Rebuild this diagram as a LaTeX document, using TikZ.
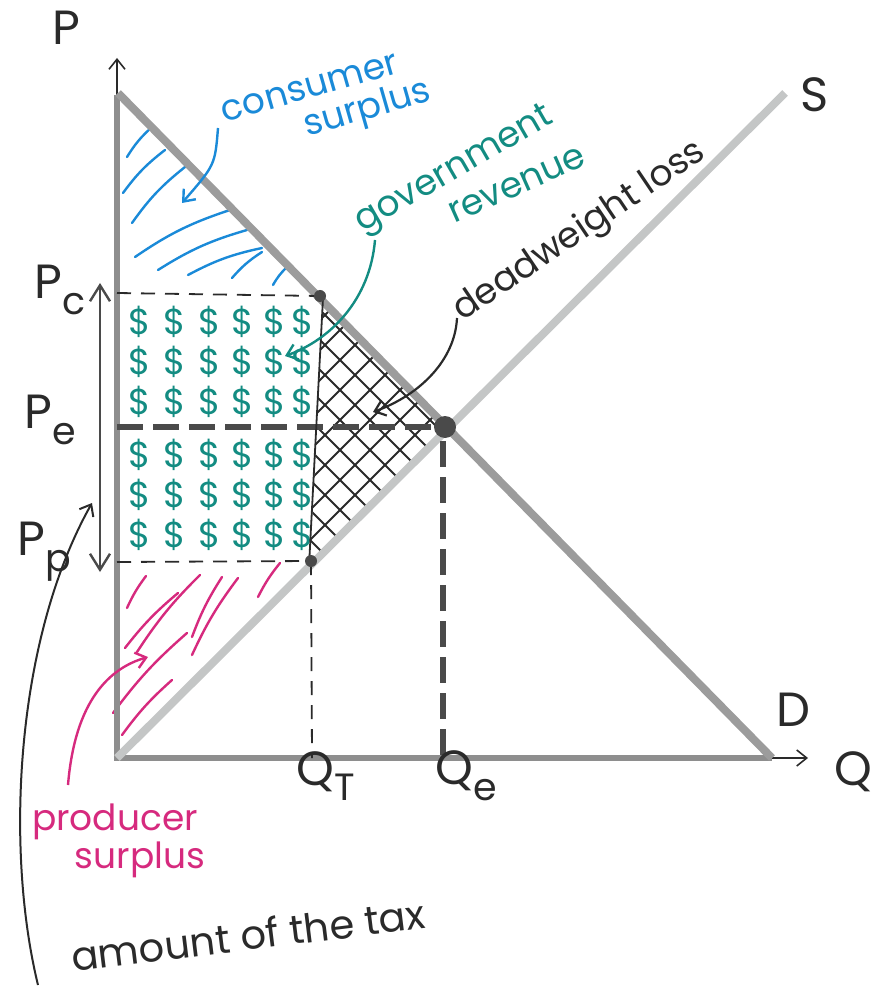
\documentclass[tikz,border=0pt]{standalone}
\usepackage{fontspec}
\setmainfont{Poppins}
\usetikzlibrary{arrows.meta, calc}

\definecolor{csblue}{HTML}{1A8AD8}
\definecolor{grteal}{HTML}{138C82}
\definecolor{psmag}{HTML}{D62A7E}
\definecolor{axisgray}{HTML}{8E8E8E}
\definecolor{demgray}{HTML}{9C9C9C}
\definecolor{supgray}{HTML}{C4C6C6}
\definecolor{inkblk}{HTML}{2A2A2A}

% P cu indice coborat
\newcommand{\plab}[2]{#1\raisebox{-0.6ex}{\fontsize{19}{19}\selectfont #2}}

\tikzset{
  axisline/.style={axisgray, line width=3pt},
  curveline/.style={line width=4pt},
  thindash/.style={inkblk, line width=0.9pt, dash pattern=on 7pt off 5pt},
  thickdash/.style={inkblk!85, line width=2.6pt, dash pattern=on 13pt off 5pt},
  hand/.style={font=\fontsize{24}{24}\selectfont, text=inkblk, inner sep=0pt},
  note/.style={font=\fontsize{18}{18}\selectfont, inner sep=0pt},
  hatch/.style={line width=1.2pt, line cap=round},
  barb/.style={-{Straight Barb[length=5pt, width=8pt]}},
}

\begin{document}
\begin{tikzpicture}[x=0.5pt, y=-0.5pt]
    \useasboundingbox (0,0) rectangle (871,988);
    % Puncte
    \coordinate (O) at (117,758);
    \coordinate (ytop) at (117,95);
    \coordinate (yarr) at (117,58);
    \coordinate (xend) at (772,758);
    \coordinate (xarr) at (808,758);
    \coordinate (dtop) at (118,93);
    \coordinate (stop) at (785,93);
    \coordinate (E) at (445,427);
    \coordinate (C) at (320,296);
    \coordinate (T) at (311,561);
    % Surplus consumator
    \foreach \xa/\ya/\xb/\yb in {127/157/152/127, 123/193/165/150, 132/223/185/167,
        135/257/230/210, 158/270/247/230, 188/275/262/248, 232/278/262/252, 273/285/287/267} {
      \draw[csblue, hatch] (\xa,\ya) to[bend left=8] (\xb,\yb);
    }
    % Surplus producator
    \foreach \xa/\ya/\xb/\yb in {127/608/146/576, 125/648/178/593, 137/652/200/575,
        192/637/222/577, 192/655/238/578, 258/597/280/563, 113/713/187/633, 122/735/172/680} {
      \draw[psmag, hatch] (\xa,\ya) to[bend left=6] (\xb,\yb);
    }
    % Pierdere neta
    \begin{scope}
      \clip (323,298) -- (E) -- (310,562) -- cycle;
      \foreach \c in {640,670,...,880} {
        \draw[inkblk, line width=0.9pt] (250,\c-250) -- (470,\c-470);
      }
      \foreach \c in {-10,20,...,250} {
        \draw[inkblk, line width=0.9pt] (250,250+\c) -- (470,470+\c);
      }
    \end{scope}
    % Venit guvern
    \foreach \y in {322,362,402,455,495,535} {
      \foreach \x in {140,175,210,243,275,303} {
        \node[grteal, font=\fontsize{18}{18}\selectfont, inner sep=0pt] (d\x\y) at (\x,\y) {\$};
      }
    }
    % Axe
    \draw[axisline] (ytop) -- (O) -- (xend);
    \draw[inkblk, line width=0.8pt, barb] (ytop) -- (yarr);
    \draw[inkblk, line width=0.8pt, barb] (xend) -- (xarr);
    % Cerere si oferta
    \draw[supgray, curveline] (O) -- (stop);
    \draw[demgray, curveline] (dtop) -- (xend);
    % Linii punctate
    \draw[thickdash] (117,427) -- ($(E)+(-14,0)$);
    \draw[thickdash] ($(E)+(-2,14)$) -- (443,758);
    \draw[thindash] (117,293) -- (C);
    \draw[thindash] (117,562) -- (T);
    \draw[thindash] (T) -- (312,758);
    \draw[inkblk, line width=0.9pt] (323,298) -- (309,566);
    \fill[inkblk!85] (E) circle (5.5pt);
    \fill[inkblk!85] (C) circle (3pt);
    \fill[inkblk!85] (T) circle (3pt);
    % Suma taxei
    \coordinate (taxtop) at (100,283);
    \coordinate (taxbot) at (100,572);
    \draw[inkblk!85, line width=1.2pt, {Straight Barb[length=8pt, width=10pt]}-{Straight Barb[length=8pt, width=10pt]}] (taxtop) -- (taxbot);
    % Etichete axe
    \node[hand] (plabel) at (66,28) {P};
    \node[hand] (pclab) at (60,290) {\plab{P}{c}};
    \node[hand] (pelab) at (50,420) {\plab{P}{e}};
    \node[hand] (pplab) at (44,552) {\plab{P}{p}};
    \node[hand] (slab) at (815,95) {S};
    \node[hand] (dlab) at (793,710) {D};
    \node[hand] (qlab) at (853,772) {Q};
    \node[hand] (qtlab) at (326,776) {\plab{Q}{T}};
    \node[hand] (qelab) at (466,776) {\plab{Q}{e}};
    % Texte
    \node[note, text=csblue, rotate=16] (cons) at (310,88) {consumer};
    \node[note, text=csblue, rotate=16] (csurp) at (368,110) {surplus};
    \node[note, text=grteal, rotate=30] (gov) at (455,171) {government};
    \node[note, text=grteal, rotate=24] (rev) at (517,185) {revenue};
    \node[note, text=inkblk, rotate=34] (dwl) at (580,232) {deadweight loss};
    \node[note, text=psmag] (prod) at (115,822) {producer};
    \node[note, text=psmag] (psurp) at (140,860) {surplus};
    \node[note, text=inkblk, rotate=7, font=\fontsize{20}{20}\selectfont] (tax) at (248,935) {amount of the tax};
    % Sageti
    \coordinate (cs-tail) at (218,128);
    \coordinate (cs-tip) at (182,203);
    \draw[csblue, line width=1.2pt, barb] (cs-tail) .. controls (215,165) .. (cs-tip);
    \coordinate (gr-tail) at (375,240);
    \coordinate (gr-tip) at (285,356);
    \draw[grteal, line width=1.2pt, barb] (gr-tail) .. controls (370,300) and (330,340) .. (gr-tip);
    \coordinate (dw-tail) at (457,318);
    \coordinate (dw-tip) at (373,412);
    \draw[inkblk, line width=1.1pt, barb] (dw-tail) .. controls (455,360) and (420,395) .. (dw-tip);
    \coordinate (ps-tail) at (68,785);
    \coordinate (ps-tip) at (148,657);
    \draw[psmag, line width=1.2pt, barb] (ps-tail) .. controls (75,700) and (110,668) .. (ps-tip);
    \coordinate (tx-tail) at (38,985);
    \coordinate (tx-tip) at (92,503);
    \draw[inkblk, line width=1pt, barb] (tx-tail) .. controls (5,850) and (15,640) .. (tx-tip);
  \end{tikzpicture}
\end{document}
